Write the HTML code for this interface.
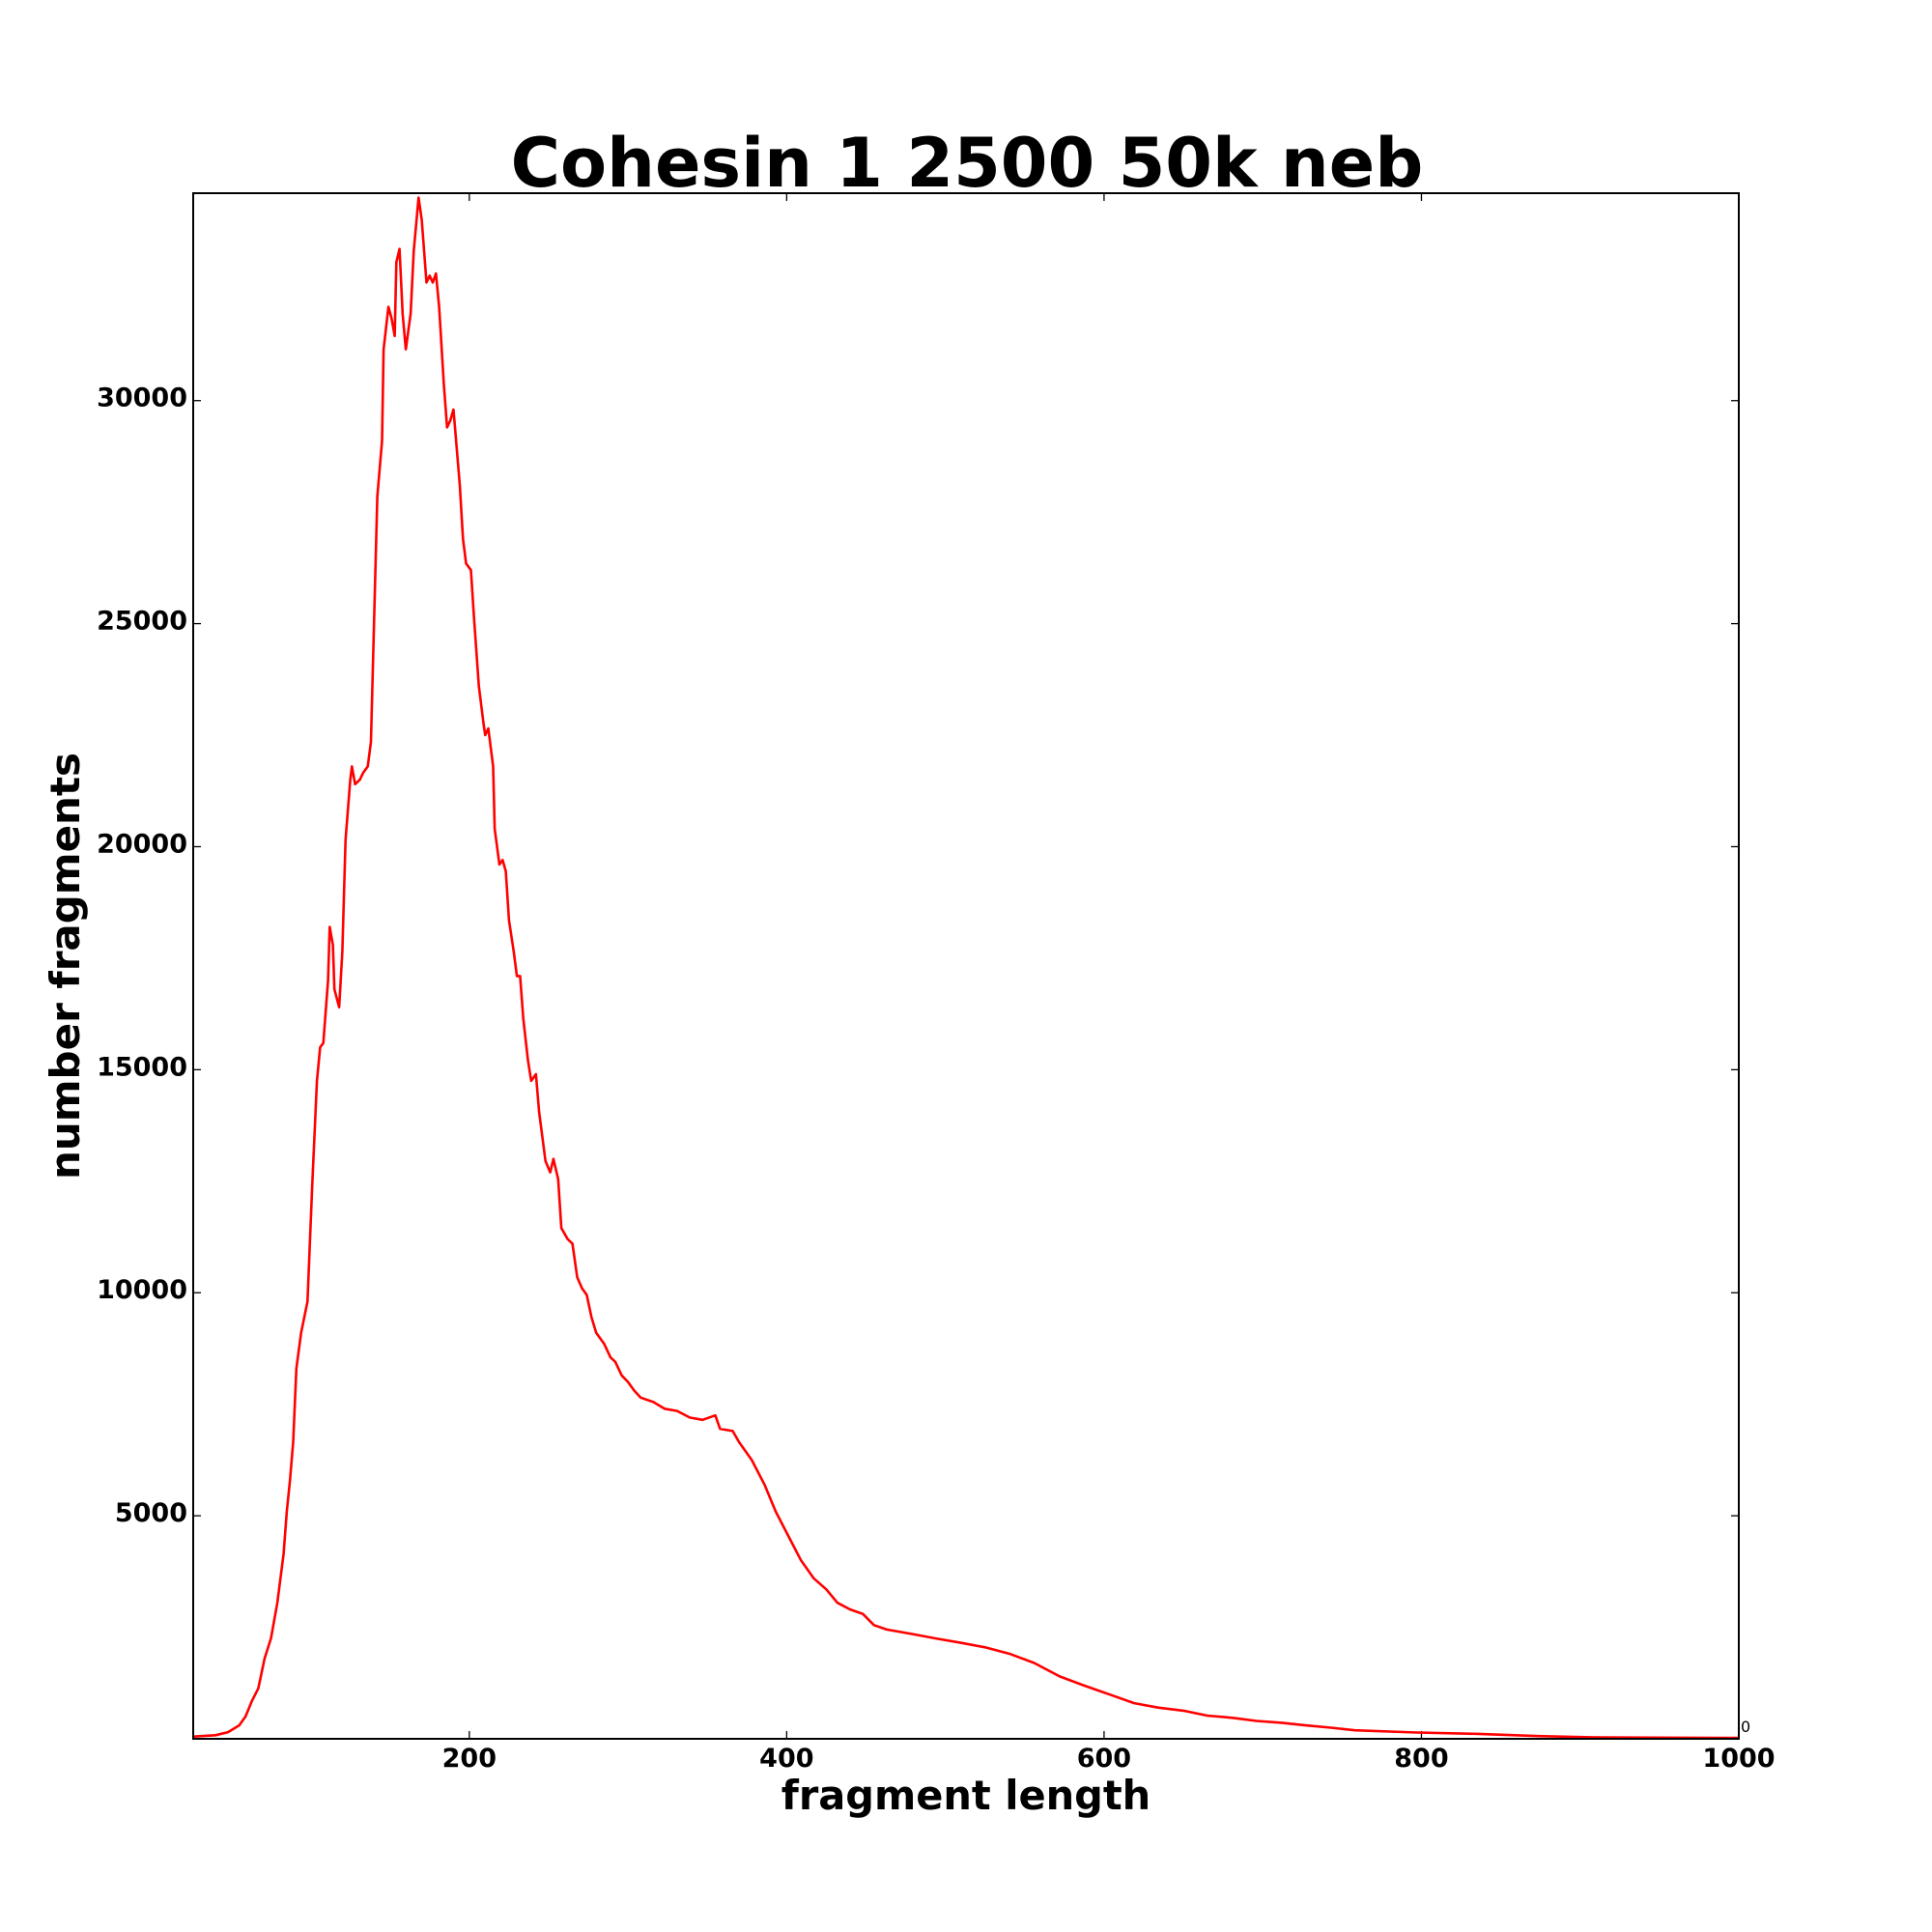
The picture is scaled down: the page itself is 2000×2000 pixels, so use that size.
<!DOCTYPE html>
<html><head><meta charset="utf-8"><style>
html,body{margin:0;padding:0;background:#fff}
svg{display:block}
text{font-family:"DejaVu Sans","Liberation Sans",sans-serif;fill:#000}
</style></head><body>
<svg id="chart" width="2000" height="2000" viewBox="0 0 2000 2000" xmlns="http://www.w3.org/2000/svg">
<rect width="2000" height="2000" fill="#fff"/>
<text x="1001" y="193" font-size="70" font-weight="bold" text-anchor="middle">Cohesin 1 2500 50k neb</text>
<g id="ticks"></g>
<path id="series" fill="none" stroke="#ff0000" stroke-width="2.6" stroke-linejoin="round"/>
<rect x="200" y="200" width="1600" height="1600" fill="none" stroke="#000" stroke-width="2"/>
<text x="1000" y="1873" font-size="41.5" font-weight="bold" text-anchor="middle">fragment length</text>
<text x="0" y="0" font-size="42" font-weight="bold" text-anchor="middle" transform="translate(82,1000) rotate(-90)">number fragments</text>
<text x="1802" y="1793" font-size="16">0</text>
</svg>
<script>
const xs = [26,40,48,55,59,63,67,71,75,79,83,85,87,89,91,94,98,101,104,106,108,111,112,114,115,118,120,122,125,126,128,131,133,136,138,140,142,145,146,149,151,153,154,156,158,160,163,165,168,170,173,175,177,179,181,184,186,188,190,191,194,196,198,201,203,206,209,210,212,215,216,219,221,223,225,228,230,232,234,237,239,242,244,248,251,253,256,258,262,265,268,271,274,277,280,285,289,292,296,300,304,308,316,323,331,339,347,355,358,366,370,378,386,393,401,409,417,425,432,440,448,455,463,479,494,510,525,541,556,572,587,603,619,634,650,665,681,696,712,727,743,758,797,836,874,913,1000];
const counts = [50,80,150,300,500,850,1130,1800,2250,3050,4150,5100,5800,6650,8300,9100,9800,12400,14750,15500,15600,17000,18200,17800,16800,16400,17650,20150,21500,21800,21400,21500,21650,21800,22350,25100,27850,29100,31150,32100,31850,31450,33100,33400,31950,31150,31950,33350,34550,34050,32650,32800,32650,32850,32100,30350,29400,29550,29800,29400,28100,26900,26350,26200,25100,23600,22750,22500,22650,21800,20400,19600,19700,19450,18350,17650,17100,17100,16150,15200,14750,14900,14050,12950,12700,13000,12550,11450,11200,11100,10350,10100,9950,9450,9100,8850,8550,8450,8150,8000,7800,7650,7550,7400,7350,7200,7150,7250,6950,6900,6650,6250,5700,5100,4550,4000,3600,3350,3050,2900,2800,2550,2450,2350,2250,2150,2050,1900,1700,1400,1200,1000,800,700,630,520,470,400,360,300,250,190,140,110,60,30,20];
const xTicks = [200,400,600,800,1000];
const yTicks = [5000,10000,15000,20000,25000,30000];
const X0=200,X1=1800,Y0=1800,Y1=200;
const xMin=26,xMax=1000,yMin=0,yMax=34650;
function sx(v){return X0+(v-xMin)/(xMax-xMin)*(X1-X0);}
function sy(v){return Y0-(v-yMin)/(yMax-yMin)*(Y0-Y1);}
let d='';
for(let i=0;i<xs.length;i++){d+=(i?'L':'M')+sx(xs[i]).toFixed(1)+' '+sy(counts[i]).toFixed(1);}
document.getElementById('series').setAttribute('d',d);
const g=document.getElementById('ticks');
const NS='http://www.w3.org/2000/svg';
function line(x1,y1,x2,y2){const l=document.createElementNS(NS,'line');l.setAttribute('x1',x1);l.setAttribute('y1',y1);l.setAttribute('x2',x2);l.setAttribute('y2',y2);l.setAttribute('stroke','#000');l.setAttribute('stroke-width','1.3');


g.appendChild(l);}
xTicks.forEach(v=>{const x=sx(v);line(x,Y0,x,Y0-8);line(x,Y1,x,Y1+8);
const t=document.createElementNS(NS,'text');t.setAttribute('x',x);t.setAttribute('y',1829);t.setAttribute('font-size','27');t.setAttribute('font-weight','bold');t.setAttribute('text-anchor','middle');t.textContent=v;


g.appendChild(t);});
yTicks.forEach(v=>{const y=sy(v);line(X0,y,X0+8,y);line(X1,y,X1-8,y);
const t=document.createElementNS(NS,'text');t.setAttribute('x',194);t.setAttribute('y',y+6);t.setAttribute('font-size','27');t.setAttribute('font-weight','bold');t.setAttribute('text-anchor','end');t.textContent=v;


g.appendChild(t);});
</script>
</body></html>
